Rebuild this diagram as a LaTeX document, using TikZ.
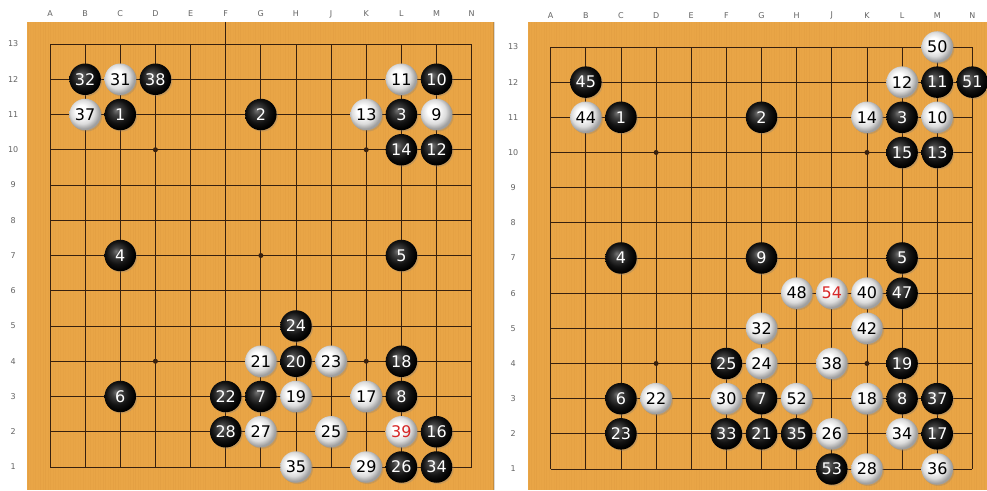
\documentclass[tikz,border=0pt]{standalone}
\usepackage{fontspec}
\setmainfont{DejaVu Sans}
\usetikzlibrary{shadows}
\definecolor{wood}{RGB}{233,165,70}
\definecolor{woodgrain}{RGB}{190,120,40}
\definecolor{gridc}{RGB}{55,32,14}
\definecolor{labc}{RGB}{100,100,100}
\definecolor{rednum}{RGB}{215,40,40}
\pgfdeclareradialshading{wstoneshade}{\pgfpoint{-7bp}{7bp}}{color(0bp)=(white);color(9bp)=(white);color(19bp)=(black!14);color(26bp)=(black!38);color(50bp)=(black!38)}
\pgfdeclareradialshading{bstoneshade}{\pgfpoint{-7bp}{7bp}}{color(0bp)=(black!55);color(7bp)=(black!75);color(18bp)=(black!93);color(26bp)=(black);color(50bp)=(black)}
\tikzset{
  stone/.style={circle, minimum size=31.5pt, inner sep=0pt, font=\fontsize{16}{16}\selectfont,
    drop shadow={shadow xshift=1.3pt, shadow yshift=-1.3pt, opacity=0.3}},
  bst/.style={stone, shading=bstoneshade, text=white},
  wst/.style={stone, shading=wstoneshade, text=black},
  rednumber/.style={text=rednum},
  lbl/.style={font=\fontsize{8}{8}\selectfont, text=labc, inner sep=0pt},
  hoshi/.style={circle, fill=gridc, minimum size=5pt, inner sep=0pt},
  gline/.style={draw=gridc, line width=0.85pt},
}
\begin{document}
\begin{tikzpicture}[x=1pt,y=1pt]
\useasboundingbox (0,0) rectangle (987,490);
\fill[white] (0,0) rectangle (987,490);
% boards
\fill[wood] (27,0) rectangle (494,468);
\fill[wood] (527.7,0) rectangle (987,468);
\pgfmathsetseed{7}
\foreach \i in {0,...,185} {
  \pgfmathsetmacro\op{0.02+0.08*rnd}
  \draw[woodgrain, opacity=\op, line width=0.9pt] (28+2.5*\i,0) -- ++(0,468);
}
\foreach \i in {0,...,182} {
  \pgfmathsetmacro\op{0.02+0.08*rnd}
  \draw[woodgrain, opacity=\op, line width=0.9pt] (529+2.5*\i,0) -- ++(0,468);
}
\draw[black, opacity=0.15, line width=1.5pt] (494,0) -- (494,468);

% ---------- left board ----------
\begin{scope}[shift={(50,23)}, x=35.14pt, y=35.25pt]
  \foreach \i in {0,...,12} {
    \draw[gline] (\i,0) -- (\i,12);
    \draw[gline] (0,\i) -- (12,\i);
  }
  \draw[gridc, line width=1.4pt] (5,12.624) -- (5,0);
  \foreach \l [count=\i from 0] in {A,B,C,D,E,F,G,H,J,K,L,M,N}
    \node[lbl] (Lcol\l) at (\i,12.85) {\l};
  \foreach \r in {1,...,13}
    \node[lbl] (Lrow\r) at (-1.05,\r-1) {\r};
  \foreach \c/\r [count=\k] in {3/10,9/10,6/7,3/4,9/4}
    \node[hoshi] (Lh\k) at (\c,\r-1) {};
  \foreach \c/\r/\n in {1/12/32,3/12/38,11/12/10,2/11/1,6/11/2,10/11/3,10/10/14,11/10/12,
      2/7/4,10/7/5,7/5/24,7/4/20,10/4/18,2/3/6,5/3/22,6/3/7,10/3/8,5/2/28,11/2/16,10/1/26,11/1/34}
    \node[bst] (L\n) at (\c,\r-1) {\n};
  \foreach \c/\r/\n in {2/12/31,10/12/11,1/11/37,9/11/13,11/11/9,6/4/21,8/4/23,7/3/19,9/3/17,
      6/2/27,8/2/25,7/1/35,9/1/29}
    \node[wst] (L\n) at (\c,\r-1) {\n};
  \node[wst, rednumber] (L39) at (10,1) {39};
\end{scope}

% ---------- right board ----------
\begin{scope}[shift={(550.7,21)}, x=35.14pt, y=35.17pt]
  \foreach \i in {0,...,12} {
    \draw[gline] (\i,0) -- (\i,12);
    \draw[gline] (0,\i) -- (12,\i);
  }
  \foreach \l [count=\i from 0] in {A,B,C,D,E,F,G,H,J,K,L,M,N}
    \node[lbl] (Rcol\l) at (\i,12.89) {\l};
  \foreach \r in {1,...,13}
    \node[lbl] (Rrow\r) at (-1.07,\r-1) {\r};
  \foreach \c/\r [count=\k] in {3/10,9/10,3/4,9/4}
    \node[hoshi] (Rh\k) at (\c,\r-1) {};
  \foreach \c/\r/\n in {1/12/45,11/12/11,12/12/51,2/11/1,6/11/2,10/11/3,10/10/15,11/10/13,
      2/7/4,6/7/9,10/7/5,10/6/47,5/4/25,10/4/19,2/3/6,6/3/7,10/3/8,11/3/37,
      2/2/23,5/2/33,6/2/21,7/2/35,11/2/17,8/1/53}
    \node[bst] (R\n) at (\c,\r-1) {\n};
  \foreach \c/\r/\n in {11/13/50,10/12/12,1/11/44,9/11/14,11/11/10,7/6/48,9/6/40,6/5/32,9/5/42,
      6/4/24,8/4/38,3/3/22,5/3/30,7/3/52,9/3/18,8/2/26,10/2/34,9/1/28,11/1/36}
    \node[wst] (R\n) at (\c,\r-1) {\n};
  \node[wst, rednumber] (R54) at (8,5) {54};
\end{scope}
\end{tikzpicture}
\end{document}
